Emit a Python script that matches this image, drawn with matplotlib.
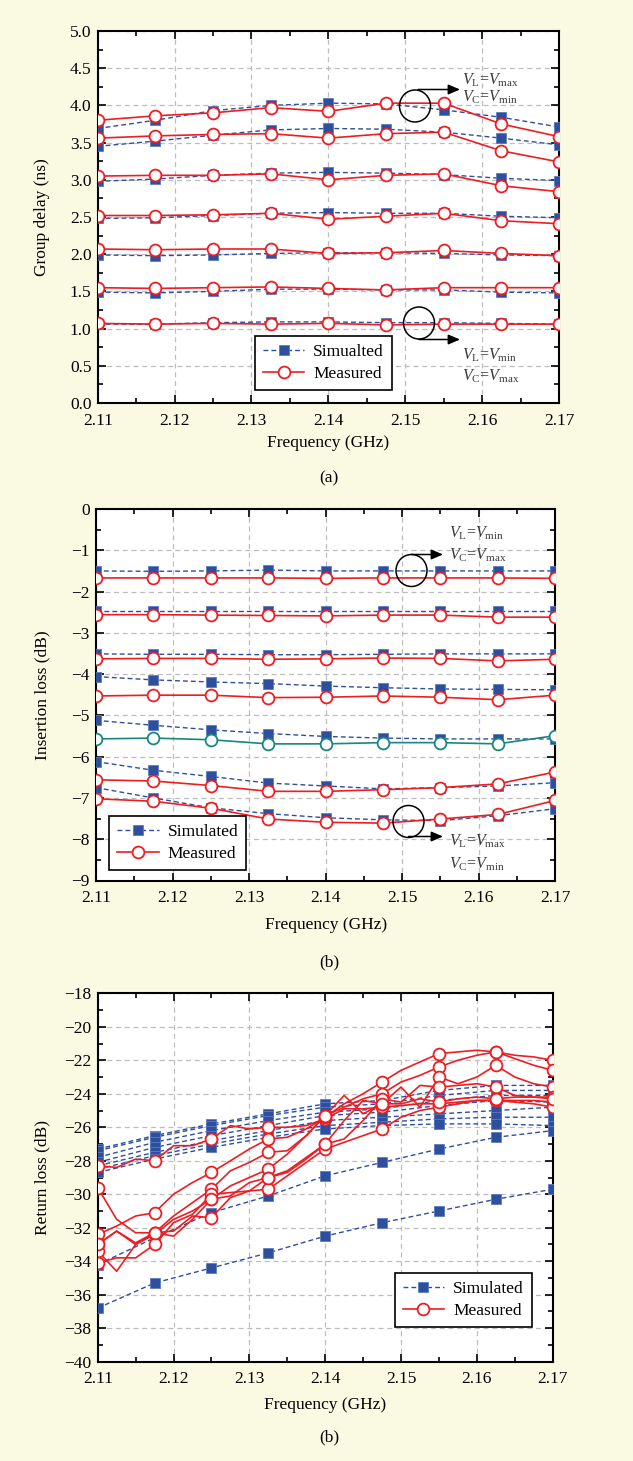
import matplotlib
matplotlib.use('Agg')
import matplotlib.pyplot as plt
from matplotlib.patches import Ellipse
from matplotlib.ticker import MultipleLocator

plt.rcParams['font.family'] = ['Liberation Serif', 'DejaVu Serif']
plt.rcParams['mathtext.fontset'] = 'custom'
plt.rcParams['mathtext.rm'] = 'Liberation Serif'
plt.rcParams['mathtext.it'] = 'Liberation Serif:italic'
plt.rcParams['axes.unicode_minus'] = True

# ---------------- data ----------------
freq = [2.11, 2.1175, 2.125, 2.1325, 2.14, 2.1475, 2.155, 2.1625, 2.17]
freq_dense = [2.11, 2.1125, 2.115, 2.1175, 2.12, 2.1225, 2.125, 2.1275, 2.13,
              2.1325, 2.135, 2.1375, 2.14, 2.1425, 2.145, 2.1475, 2.15, 2.1525,
              2.155, 2.1575, 2.16, 2.1625, 2.165, 2.1675, 2.17]
xticks = [2.11, 2.12, 2.13, 2.14, 2.15, 2.16, 2.17]

# (a) group delay (ns)
gd_sim_1 = [3.69, 3.80, 3.93, 4.00, 4.03, 4.02, 3.94, 3.84, 3.71]
gd_sim_2 = [3.45, 3.52, 3.60, 3.67, 3.69, 3.68, 3.64, 3.56, 3.47]
gd_sim_3 = [2.98, 3.01, 3.06, 3.09, 3.10, 3.09, 3.07, 3.02, 2.99]
gd_sim_4 = [2.48, 2.49, 2.52, 2.55, 2.56, 2.55, 2.55, 2.51, 2.49]
gd_sim_5 = [1.99, 1.98, 1.99, 2.01, 2.02, 2.02, 2.01, 1.99, 1.98]
gd_sim_6 = [1.49, 1.48, 1.50, 1.53, 1.53, 1.52, 1.52, 1.49, 1.48]
gd_sim_7 = [1.06, 1.06, 1.08, 1.09, 1.09, 1.08, 1.08, 1.07, 1.06]
gd_meas_1 = [3.80, 3.86, 3.90, 3.97, 3.92, 4.03, 4.03, 3.75, 3.58]
gd_meas_2 = [3.56, 3.59, 3.61, 3.62, 3.56, 3.62, 3.64, 3.39, 3.24]
gd_meas_3 = [3.05, 3.06, 3.06, 3.08, 3.00, 3.06, 3.08, 2.92, 2.84]
gd_meas_4 = [2.52, 2.52, 2.53, 2.55, 2.47, 2.51, 2.55, 2.45, 2.41]
gd_meas_5 = [2.07, 2.06, 2.07, 2.07, 2.01, 2.02, 2.05, 2.01, 1.98]
gd_meas_6 = [1.55, 1.54, 1.55, 1.56, 1.54, 1.52, 1.55, 1.55, 1.55]
gd_meas_7 = [1.07, 1.06, 1.07, 1.06, 1.07, 1.05, 1.06, 1.06, 1.06]

# (b) insertion loss (dB)
il_sim_1 = [-1.50, -1.51, -1.50, -1.48, -1.50, -1.50, -1.50, -1.50, -1.50]
il_sim_2 = [-2.48, -2.48, -2.48, -2.48, -2.48, -2.48, -2.48, -2.48, -2.48]
il_sim_3 = [-3.51, -3.52, -3.52, -3.53, -3.53, -3.52, -3.51, -3.51, -3.51]
il_sim_4 = [-4.06, -4.14, -4.19, -4.23, -4.29, -4.33, -4.36, -4.37, -4.38]
il_sim_5 = [-5.12, -5.24, -5.35, -5.44, -5.51, -5.55, -5.57, -5.57, -5.57]
il_sim_6 = [-6.12, -6.33, -6.48, -6.64, -6.71, -6.78, -6.75, -6.71, -6.63]
il_sim_7 = [-6.75, -7.00, -7.24, -7.38, -7.48, -7.53, -7.55, -7.43, -7.26]
il_meas_1 = [-1.67, -1.67, -1.67, -1.67, -1.68, -1.67, -1.67, -1.67, -1.68]
il_meas_2 = [-2.56, -2.56, -2.57, -2.58, -2.59, -2.57, -2.57, -2.62, -2.62]
il_meas_3 = [-3.63, -3.62, -3.62, -3.64, -3.63, -3.61, -3.62, -3.68, -3.64]
il_meas_4 = [-4.53, -4.51, -4.51, -4.57, -4.56, -4.53, -4.56, -4.62, -4.51]
il_meas_5 = [-5.57, -5.55, -5.59, -5.69, -5.69, -5.66, -5.66, -5.69, -5.49]
il_meas_6 = [-6.56, -6.59, -6.70, -6.84, -6.84, -6.80, -6.75, -6.66, -6.37]
il_meas_7 = [-7.02, -7.08, -7.25, -7.51, -7.59, -7.61, -7.51, -7.40, -7.06]

# (c) return loss (dB)
rl_sim_1 = [-27.3, -26.5, -25.8, -25.2, -24.6, -24.4, -23.8, -23.5, -23.5]
rl_sim_2 = [-27.4, -26.6, -25.9, -25.3, -24.8, -24.6, -24.1, -23.8, -23.8]
rl_sim_3 = [-27.8, -26.9, -26.2, -25.6, -25.1, -24.9, -24.4, -24.1, -24.1]
rl_sim_4 = [-28.1, -27.2, -26.5, -25.9, -25.3, -25.1, -24.7, -24.4, -24.5]
rl_sim_5 = [-28.3, -27.5, -26.8, -26.2, -25.6, -25.4, -25.2, -25.0, -24.8]
rl_sim_6 = [-28.5, -27.7, -27.0, -26.4, -25.9, -25.7, -25.5, -25.4, -25.4]
rl_sim_7 = [-28.7, -27.9, -27.2, -26.6, -26.1, -25.9, -25.8, -25.8, -25.9]
rl_sim_8 = [-34.2, -32.6, -31.1, -30.1, -28.9, -28.1, -27.3, -26.6, -26.2]
rl_sim_9 = [-36.8, -35.3, -34.4, -33.5, -32.5, -31.7, -31.0, -30.3, -29.7]

rl_meas_1 = [-28.3, -28.4, -27.9, -28.0, -27.1, -27.1, -26.7, -25.9, -26.1, -26.0, -26.0, -25.9,
             -25.5, -24.9, -24.9, -24.8, -24.7, -24.6, -24.6, -24.5, -24.4, -24.4, -24.4, -24.4, -24.5]
rl_meas_2 = [-32.4, -31.9, -31.3, -31.1, -30.0, -29.3, -28.7, -28.0, -27.3, -26.7, -26.6, -26.1,
             -25.4, -24.6, -24.0, -23.3, -22.6, -22.1, -21.6, -21.5, -21.4, -21.5, -21.7, -21.8, -22.0]
rl_meas_3 = [-29.6, -31.5, -32.3, -32.3, -31.3, -30.5, -29.7, -28.6, -28.1, -27.5, -27.4, -26.5,
             -25.3, -24.8, -24.3, -24.0, -23.3, -22.9, -22.4, -22.0, -21.7, -21.5, -21.9, -22.3, -22.6]
rl_meas_4 = [-33.0, -32.2, -33.0, -32.4, -31.5, -31.0, -30.3, -29.5, -29.0, -28.5, -27.6, -26.5,
             -25.3, -24.1, -25.2, -24.6, -23.6, -24.8, -23.0, -23.4, -23.0, -22.3, -23.0, -23.4, -23.6]
rl_meas_5 = [-33.4, -34.6, -33.0, -32.3, -32.2, -31.3, -31.4, -30.2, -29.8, -29.0, -28.6, -27.8,
             -27.0, -26.7, -25.6, -24.3, -24.5, -23.5, -23.6, -23.5, -23.4, -23.6, -24.1, -24.2, -24.2]
rl_meas_6 = [-34.1, -33.8, -33.8, -33.0, -31.7, -31.2, -30.0, -29.9, -29.8, -29.7, -28.9, -28.1,
             -27.3, -26.9, -26.5, -26.1, -25.4, -25.0, -24.8, -24.6, -24.4, -24.4, -24.5, -24.6, -24.8]
rl_meas_7 = [-33.0, -32.2, -32.9, -32.3, -32.5, -31.5, -30.3, -30.1, -29.3, -29.0, -28.7, -27.9,
             -27.0, -25.6, -24.4, -24.6, -24.6, -24.3, -24.5, -24.3, -24.2, -24.3, -24.2, -24.2, -24.3]

# ---------------- style ----------------
W, H = 633, 1461
BG = '#FAF9E2'
BLUE = '#2E4E9E'
RED = '#EE1D23'
TEAL = '#17877F'
FS = 12.5

fig = plt.figure(figsize=(W / 100, H / 100), dpi=100, facecolor=BG)


def axes_px(left, right, top, bottom):
    return fig.add_axes([left / W, 1 - bottom / H, (right - left) / W, (bottom - top) / H])


def style_axes(ax, ymin, ymax, ymajor, yminor, ylabel, yfmt, ylab_x, xlab_y):
    ax.set_xlim(2.11, 2.17)
    ax.set_ylim(ymin, ymax)
    ax.set_xticks(xticks)
    ax.set_xticklabels([f'{t:.2f}' for t in xticks])
    ax.xaxis.set_minor_locator(MultipleLocator(0.005))
    ax.yaxis.set_major_locator(MultipleLocator(ymajor))
    ax.yaxis.set_minor_locator(MultipleLocator(yminor))
    ax.yaxis.set_major_formatter(yfmt)
    ax.tick_params(which='both', direction='in', top=True, right=True, width=1.2,
                   labelsize=FS)
    ax.tick_params(axis='y', which='major', pad=4.5)
    ax.tick_params(axis='x', which='major', pad=7)
    ax.tick_params(which='major', length=6)
    ax.tick_params(which='minor', length=3.5)
    ax.grid(True, which='major', linestyle=(0, (4, 3)), color='#BDBDBD', linewidth=0.9)
    ax.set_axisbelow(True)
    for s in ax.spines.values():
        s.set_linewidth(1.5)
    ax.set_xlabel('Frequency (GHz)', fontsize=FS)
    ax.set_ylabel(ylabel, fontsize=FS)
    ax.yaxis.set_label_coords(ylab_x, 0.5)
    ax.xaxis.set_label_coords(0.5, xlab_y)


def sim(ax, x, y, label=None):
    ax.plot(x, y, color=BLUE, linestyle=(0, (3.5, 2.2)), linewidth=1.0, marker='s',
            markersize=7, markerfacecolor=BLUE, markeredgecolor='#5C7BC0',
            markeredgewidth=0.6, label=label, zorder=3)


def meas(ax, x, y, color=RED, label=None, every=1):
    ax.plot(x, y, color=color, linewidth=1.2, marker='o', markersize=8.5,
            markerfacecolor='white', markeredgecolor=color, markeredgewidth=1.3,
            markevery=every, label=label, zorder=4)


def legend(ax, x0, y0):
    h, l = ax.get_legend_handles_labels()
    leg = ax.legend(h, l, loc='lower left', bbox_to_anchor=(x0, y0), borderaxespad=0,
                    fontsize=FS, frameon=True, fancybox=False, framealpha=1,
                    edgecolor='black', handlelength=2.4, borderpad=0.45,
                    labelspacing=0.35, handletextpad=0.5)
    leg.get_frame().set_linewidth(1.2)
    leg.set_zorder(10)


def fpx(x, y):
    return (x / W, 1 - y / H)


def circle_note(cx, cy, ax0, ay, axe, t1, t1y, t2, t2y, tx):
    e = Ellipse(fpx(cx, cy), 31 / W, 32 / H, transform=fig.transFigure,
                fill=False, edgecolor='black', linewidth=1.1, zorder=20)
    fig.add_artist(e)
    fig.add_artist(matplotlib.patches.FancyArrowPatch(
        fpx(ax0, ay), fpx(axe, ay), transform=fig.transFigure,
        arrowstyle='-|>,head_length=7,head_width=3', mutation_scale=1,
        color='black', linewidth=1.1, shrinkA=0, shrinkB=0, zorder=20))
    fig.text(*fpx(tx, t1y), t1, fontsize=11.5, color='#3A3A3A', va='center', ha='left')
    fig.text(*fpx(tx, t2y), t2, fontsize=11.5, color='#3A3A3A', va='center', ha='left')


# ---------------- (a) ----------------
axa = axes_px(97.7, 559, 31, 403)
gd_sims = [gd_sim_1, gd_sim_2, gd_sim_3, gd_sim_4, gd_sim_5, gd_sim_6, gd_sim_7]
gd_meass = [gd_meas_1, gd_meas_2, gd_meas_3, gd_meas_4, gd_meas_5, gd_meas_6, gd_meas_7]
for i, s in enumerate(gd_sims):
    sim(axa, freq, s, 'Simualted' if i == 0 else None)
for i, m in enumerate(gd_meass):
    meas(axa, freq, m, label='Measured' if i == 0 else None)
style_axes(axa, 0, 5.0, 0.5, 0.25, 'Group delay (ns)',
           matplotlib.ticker.FormatStrFormatter('%.1f'), -0.1034, -0.085)
legend(axa, 0.341, 0.035)
circle_note(415, 106, 418, 89.5, 460,
            r'$V_{\mathrm{L}}$=$V_{\mathrm{max}}$', 80,
            r'$V_{\mathrm{C}}$=$V_{\mathrm{min}}$', 97, 462)
circle_note(419, 323, 419, 339.5, 460,
            r'$V_{\mathrm{L}}$=$V_{\mathrm{min}}$', 355,
            r'$V_{\mathrm{C}}$=$V_{\mathrm{max}}$', 376, 462)
fig.text(*fpx(329, 478), '(a)', fontsize=FS, ha='center', va='center')

# ---------------- (b) ----------------
axb = axes_px(96, 555.3, 509, 880.5)
il_sims = [il_sim_1, il_sim_2, il_sim_3, il_sim_4, il_sim_5, il_sim_6, il_sim_7]
il_meass = [il_meas_1, il_meas_2, il_meas_3, il_meas_4, il_meas_5, il_meas_6, il_meas_7]
il_colors = [RED, RED, RED, RED, TEAL, RED, RED]
for i, s in enumerate(il_sims):
    sim(axb, freq, s, 'Simulated' if i == 0 else None)
for i, m in enumerate(il_meass):
    meas(axb, freq, m, color=il_colors[i], label='Measured' if i == 0 else None)
style_axes(axb, -9, 0, 1, 0.5, 'Insertion loss (dB)', matplotlib.ticker.FuncFormatter(
    lambda v, p: '0' if abs(v) < 1e-9 else f'\u2212{abs(v):.0f}'), -0.1002, -0.098)
legend(axb, 0.029, 0.028)
circle_note(411.5, 570.5, 411.5, 554.5, 443,
            r'$V_{\mathrm{L}}$=$V_{\mathrm{min}}$', 533,
            r'$V_{\mathrm{C}}$=$V_{\mathrm{max}}$', 555, 449)
circle_note(408.5, 821.5, 408.5, 836.5, 443,
            r'$V_{\mathrm{L}}$=$V_{\mathrm{max}}$', 841,
            r'$V_{\mathrm{C}}$=$V_{\mathrm{min}}$', 864, 449)
fig.text(*fpx(329, 962), '(b)', fontsize=FS, ha='center', va='center')

# ---------------- (c) ----------------
axc = axes_px(97.7, 552.7, 993.3, 1361.7)
rl_sims = [rl_sim_1, rl_sim_2, rl_sim_3, rl_sim_4, rl_sim_5, rl_sim_6, rl_sim_7, rl_sim_8, rl_sim_9]
rl_meass = [rl_meas_1, rl_meas_2, rl_meas_3, rl_meas_4, rl_meas_5, rl_meas_6, rl_meas_7]
for i, s in enumerate(rl_sims):
    sim(axc, freq, s, 'Simulated' if i == 0 else None)
for i, m in enumerate(rl_meass):
    meas(axc, freq_dense, m, label='Measured' if i == 0 else None, every=3)
style_axes(axc, -40, -18, 2, 1, 'Return loss (dB)', matplotlib.ticker.FuncFormatter(
    lambda v, p: f'\u2212{abs(v):.0f}'), -0.1048, -0.097)
legend(axc, 0.653, 0.095)
fig.text(*fpx(329, 1437), '(b)', fontsize=FS, ha='center', va='center')

fig.savefig('out.png', dpi=100, facecolor=BG)
